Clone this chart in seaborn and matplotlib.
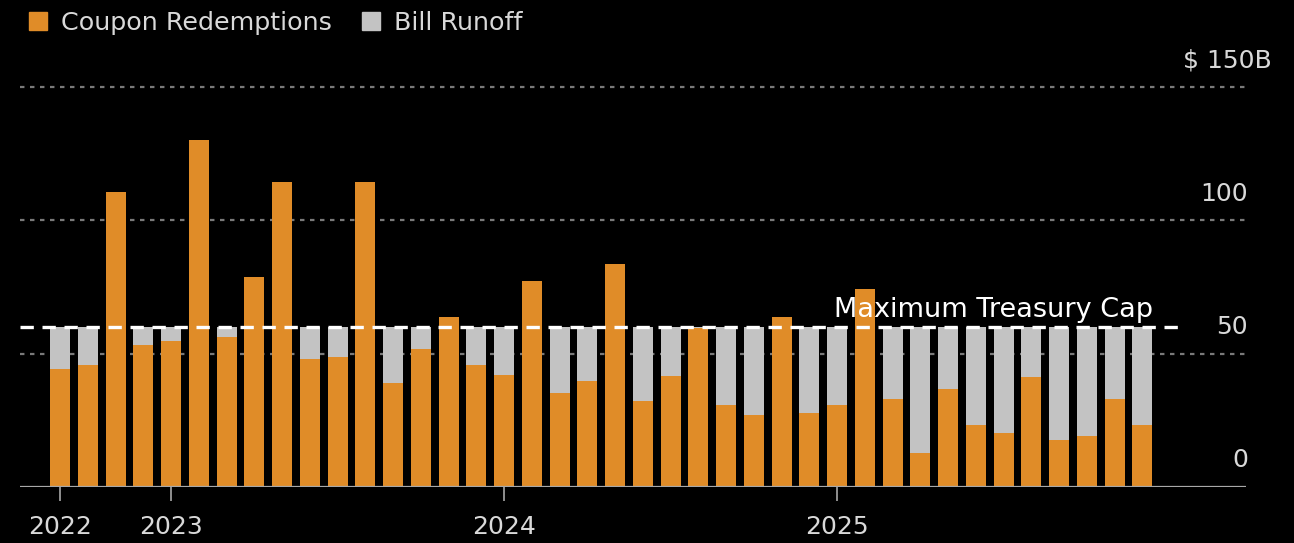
import matplotlib
matplotlib.use("Agg")
import matplotlib.pyplot as plt
import matplotlib.transforms as mtransforms
from matplotlib.patches import Patch
import pandas as pd
import seaborn as sns

# ── 数据 ──
months = pd.date_range("2022-09-01", "2025-12-01", freq="MS").strftime("%Y-%m").tolist()
coupon = [44.4, 45.9, 110.6, 53.4, 54.9, 130.0, 56.4, 78.9, 114.4, 48.1,
          48.9, 114.4, 39.0, 51.8, 63.7, 45.9, 42.1, 77.3, 35.1, 39.9,
          83.5, 32.3, 41.5, 59.6, 30.8, 27.0, 63.7, 27.9, 30.8, 74.4,
          33.1, 12.9, 36.9, 23.4, 20.4, 41.3, 17.5, 19.0, 33.1, 23.3]
bill = [15.6, 14.1, 0.0, 6.6, 5.1, 0.0, 3.6, 0.0, 0.0, 11.9,
        11.1, 0.0, 21.0, 8.2, 0.0, 14.1, 17.9, 0.0, 24.9, 20.1,
        0.0, 27.7, 18.5, 0.4, 29.2, 33.0, 0.0, 32.1, 29.2, 0.0,
        26.9, 47.1, 23.1, 36.6, 39.6, 18.7, 42.5, 41.0, 26.9, 36.7]
cap = 60
y_ticks = [0, 50, 100, 150]
y_labels = ["0", "50", "100", "$ 150B"]

ORANGE = "#E08C28"
GREY = "#C3C3C3"
TEXT = "#D9D9D9"
GRID = "#7A7A7A"
AXIS = "#A8A8A8"

sns.set_theme(style="dark")
plt.rcParams["font.family"] = ["DejaVu Sans"]

df = pd.DataFrame({"month": months, "coupon": coupon, "bill": bill})
df["total"] = df["coupon"] + df["bill"]

fig = plt.figure(figsize=(12.94, 5.43), dpi=100, facecolor="black")
ax = fig.add_axes([0.0155, 0.1031, 0.9475, 0.7366])
ax.set_facecolor("black")

# 网格线（点线）
for v in y_ticks[1:]:
    ax.axhline(v, color=GRID, lw=1.6, ls=(0, (2, 2.5)), zorder=0, clip_on=False)

# 堆叠柱：先画总高度（灰），再画票息部分（橙）
sns.barplot(data=df, x="month", y="total", color=GREY, width=0.72, saturation=1,
            errorbar=None, linewidth=0, ax=ax, zorder=2)
sns.barplot(data=df, x="month", y="coupon", color=ORANGE, width=0.72, saturation=1,
            errorbar=None, linewidth=0, ax=ax, zorder=3)

ax.set_xlim(-1.44, 42.74)
ax.set_ylim(0, 150)

# 上限虚线
ax.plot([-1.44, 40.5], [cap, cap], color="white", lw=2.4, ls=(0, (4, 2.6)), zorder=4)
ax.annotate("Maximum Treasury Cap", xy=(39.4, cap), xytext=(0, 3), textcoords="offset points",
            ha="right", va="bottom", color="white", fontsize=19.5, zorder=5)

# 基线
ax.axhline(0, color=AXIS, lw=1.6, zorder=5)

for s in ax.spines.values():
    s.set_visible(False)

# 右侧 y 标签（位于网格线上方）
trans = mtransforms.blended_transform_factory(ax.transAxes, ax.transData)
for v, lab in zip(y_ticks, y_labels):
    x = 1.021 if lab.endswith("B") else 1.0016
    ax.annotate(lab, xy=(x, v), xycoords=trans, xytext=(0, 10.5), textcoords="offset points",
                ha="right", va="bottom", color=TEXT, fontsize=18, annotation_clip=False)
ax.set_yticks([])
ax.set_ylabel("")
ax.set_xlabel("")

# x 轴年份刻度
tick_idx = [i for i, m in enumerate(months) if i == 0 or m.endswith("-01")]
ax.set_xticks(tick_idx)
ax.set_xticklabels([months[i][:4] for i in tick_idx])
ax.tick_params(axis="x", length=10, width=1.2, color=AXIS, pad=10,
               labelsize=18, labelcolor=TEXT, bottom=True)

# 图例
handles = [Patch(color=ORANGE, label="Coupon Redemptions"),
           Patch(color=GREY, label="Bill Runoff")]
fig.legend(handles=handles, loc="upper left", bbox_to_anchor=(0.005, 1.022), ncol=2,
           frameon=False, handlelength=0.7, handleheight=0.75, handletextpad=0.55,
           columnspacing=1.2, fontsize=18.3, labelcolor=TEXT)

plt.savefig("out.png", dpi=100, facecolor="black")
plt.close()
